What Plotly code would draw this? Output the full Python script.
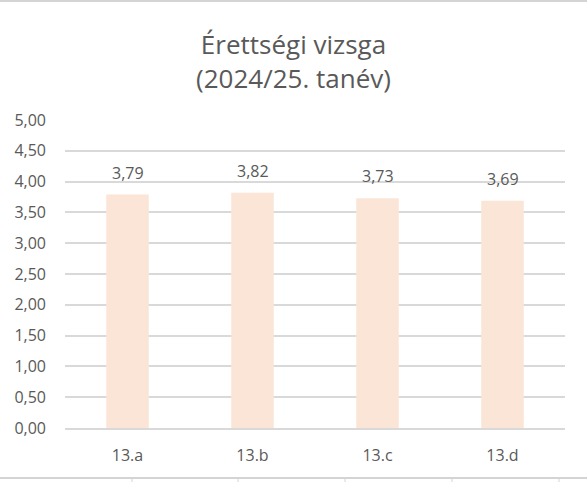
import plotly.graph_objects as go

# adatok
osztalyok = ["13.a", "13.b", "13.c", "13.d"]
atlagok = [3.79, 3.82, 3.73, 3.69]
y_ticks = [0, 0.5, 1, 1.5, 2, 2.5, 3, 3.5, 4, 4.5, 5]

szoveg_szin = "#595959"
racs_szin = "#D9D9D9"
oszlop_szin = "#FBE5D6"
cella_szin = "#D4D4D4"

W, H = 587, 482
fig = go.Figure()
fig.add_trace(go.Bar(
    x=osztalyok,
    y=atlagok,
    marker=dict(color=oszlop_szin, line=dict(width=0)),
    width=0.34,
    hoverinfo="x+y",
))

# adatfeliratok az oszlopok felett
for nev, ertek in zip(osztalyok, atlagok):
    fig.add_annotation(
        x=nev, y=ertek, text=f"{ertek:.2f}".replace(".", ","),
        showarrow=False, yanchor="bottom", yshift=9,
        font=dict(family="Open Sans, sans-serif", size=16, color=szoveg_szin),
    )

fig.update_layout(
    width=W, height=H,
    paper_bgcolor="white",
    plot_bgcolor="white",
    separators=", ",
    showlegend=False,
    margin=dict(l=65, r=22, t=120, b=54),
    font=dict(family="Open Sans, sans-serif", color=szoveg_szin, size=16),
    title=dict(
        text="Érettségi vizsga<br>(2024/25. tanév)",
        x=0.5, xanchor="center", yref="container", y=1 - 54 / H, yanchor="middle",
        font=dict(family="Open Sans, sans-serif", size=26, color=szoveg_szin),
    ),
    xaxis=dict(
        showgrid=False,
        showline=True, linecolor=racs_szin, linewidth=2,
        ticks="", ticklabelstandoff=12,
        tickfont=dict(size=16, color=szoveg_szin),
    ),
    yaxis=dict(
        range=[0, 5], tickvals=y_ticks, tickformat=".2f",
        showgrid=True, gridcolor=racs_szin, gridwidth=1.5,
        zeroline=False, showline=False,
        ticks="", ticklabelstandoff=18,
        tickfont=dict(size=16, color=szoveg_szin),
    ),
)

# munkalap cellahatárai a kép szélein (pixelből papír-koordinátába)
ph = H - 120 - 54
pw = W - 65 - 22
def py(p):
    return (H - 54 - p) / ph
def px_(p):
    return (p - 65) / pw

for yy in [1, 478]:
    fig.add_shape(type="line", xref="paper", yref="paper",
                  x0=px_(0), x1=px_(W), y0=py(yy), y1=py(yy),
                  line=dict(color=cella_szin, width=2))
for xx in [132, 238, 345, 452, 559]:
    fig.add_shape(type="line", xref="paper", yref="paper",
                  x0=px_(xx), x1=px_(xx), y0=py(0), y1=py(2),
                  line=dict(color=cella_szin, width=1))
    fig.add_shape(type="line", xref="paper", yref="paper",
                  x0=px_(xx), x1=px_(xx), y0=py(478), y1=py(H),
                  line=dict(color=cella_szin, width=1))

fig.write_html("out.html", config={"displayModeBar": False},
               post_script="document.body.style.margin='0';document.body.style.overflow='hidden';")
